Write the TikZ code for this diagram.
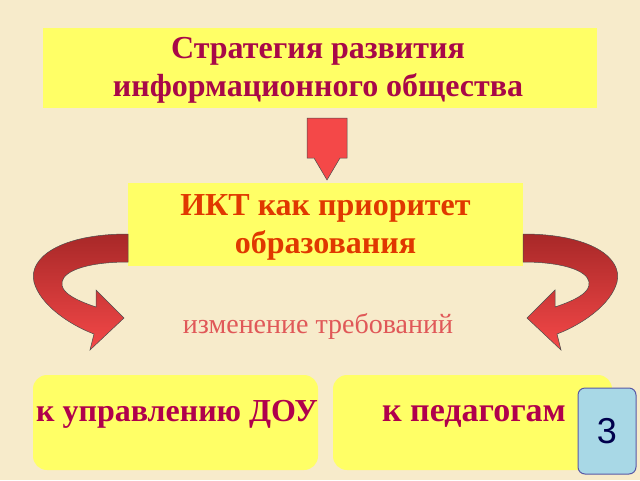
\documentclass[tikz,border=0pt]{standalone}
\usepackage{fontspec}
\setmainfont{Liberation Serif}
\newfontfamily\badgefont{Liberation Sans}
\begin{document}
\begin{tikzpicture}[x=1pt,y=-1pt,
  ybox/.style={fill=ybg,draw=none,inner sep=0pt},
  arr/.style={top color=arrdark,bottom color=arrred,draw=black!70,line width=0.5pt},
  bigtxt/.style={font=\fontsize{32}{38}\selectfont\bfseries,align=center}]
\definecolor{bg}{HTML}{F7EBCB}
\definecolor{ybg}{HTML}{FFFF66}
\definecolor{arrdark}{HTML}{A82828}
\definecolor{arrred}{HTML}{F44848}
\definecolor{topc}{HTML}{A80848}
\definecolor{ikt}{HTML}{E03800}
\definecolor{midc}{HTML}{E05858}
\definecolor{botc}{HTML}{B0004C}
\definecolor{badge}{HTML}{A8D8E6}
\fill[bg] (0,0) rectangle (640,480);
\useasboundingbox (0,0) rectangle (640,480);
\node[ybox,minimum width=554pt,minimum height=80pt] (top) at (320,68) {};
\node[bigtxt,text=topc] (toptxt) at (318,70) {Стратегия развития\\информационного общества};
\node[ybox,minimum width=395pt,minimum height=83pt] (mid) at (325.5,224.5) {};
\node[bigtxt,text=ikt] (midtxt) at (325.5,227) {ИКТ как приоритет \\ образования};
\path[arr,top color=arrred] (307,118) -- (347,118) -- (347,158) -- (340,158) -- (327,180) -- (314,158) -- (307,158) -- cycle;
\path[arr] (128,234) .. controls (60,234) and (28,258) .. (34,282) .. controls (40,305) and (70,325) .. (94,334) -- (90,350) -- (124,318) -- (96,290) -- (96,307) .. controls (75,300) and (60,292) .. (62,282) .. controls (64,270) and (90,262) .. (128,262) -- cycle;
\begin{scope}[xshift=651pt,x=-1pt]
\path[arr] (128,234) .. controls (60,234) and (28,258) .. (34,282) .. controls (40,305) and (70,325) .. (94,334) -- (90,350) -- (124,318) -- (96,290) -- (96,307) .. controls (75,300) and (60,292) .. (62,282) .. controls (64,270) and (90,262) .. (128,262) -- cycle;
\end{scope}
\node[text=midc,font=\fontsize{28}{30}\selectfont] (req) at (318,326) {изменение требований};
\node[ybox,rounded corners=14pt,minimum width=285pt,minimum height=95pt] (l) at (175.5,422.5) {};
\node[bigtxt,text=botc] (ltxt) at (177,414) {к управлению ДОУ};
\node[ybox,rounded corners=14pt,minimum width=279pt,minimum height=95pt] (r) at (472.5,422.5) {};
\node[bigtxt,text=botc,font=\fontsize{34}{38}\selectfont\bfseries] (rtxt) at (474,416) {к педагогам};
\node[fill=badge,draw=gray!70!blue,line width=1pt,rounded corners=7pt,minimum width=58pt,minimum height=86pt,text=blue!30!black,font=\badgefont\fontsize{36}{36}\selectfont] (badge) at (607,431) {3};
\end{tikzpicture}
\end{document}
